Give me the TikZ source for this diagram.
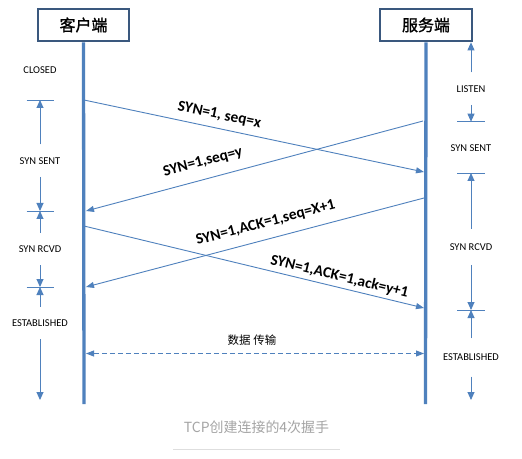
\documentclass[tikz,border=0pt]{standalone}
\usepackage{fontspec}
\setmainfont{Carlito}
\newfontfamily\cjk{Noto Sans CJK SC}
\newfontfamily\cjkbox[FakeBold=1.3]{Noto Sans CJK SC}
\usetikzlibrary{positioning, arrows.meta}
\definecolor{lineblue}{RGB}{79,129,189}
\definecolor{boxblue}{RGB}{58,88,126}
\definecolor{capgray}{RGB}{165,165,165}
\definecolor{rulegray}{RGB}{222,222,222}

\begin{document}
\begin{tikzpicture}
    [
        x=1bp, y=-1bp,
        host_box/.style={draw=boxblue, line width=2.7bp, fill=white, minimum width=91bp, minimum height=32bp, inner sep=0pt, font=\cjkbox\fontsize{16}{16}\selectfont},
        life_line/.style={draw=lineblue, line width=3.3bp},
        msg_line/.style={-{Triangle[length=8bp, width=6bp]}, draw=lineblue, line width=0.9bp},
        msg_label/.style={sloped, inner sep=0pt, font=\bfseries\fontsize{15.4}{15.4}\selectfont},
        state_label/.style={inner sep=0pt, minimum height=32bp, font=\fontsize{10.5}{10.5}\selectfont},
        state_arrow/.style={-{Triangle[length=8bp, width=7bp]}, draw=lineblue, line width=0.9bp},
        tick_mark/.style={draw=lineblue, line width=0.9bp},
    ]
        \useasboundingbox[fill=white] (0,0) rectangle (522,459);
        % hosts and life lines
        \node[host_box] (client) at (83.5,25) {客户端};
        \node[host_box, minimum width=92bp] (server) at (426,25) {服务端};
        \coordinate (client_end) at (84,404);
        \coordinate (server_end) at (425.5,404);
        \draw[life_line] (client.south) -- (client_end);
        \draw[life_line] (server.south) -- (server_end);

        % handshake messages
        \coordinate (c1) at (84,100);   \coordinate (s1) at (424,172);
        \coordinate (s2) at (423,121);  \coordinate (c2) at (86,211);
        \coordinate (s3) at (424,198);  \coordinate (c3) at (86,287);
        \coordinate (c4) at (84,226);   \coordinate (s4) at (424,308);
        \draw[msg_line] (c1) -- (s1) node[msg_label, pos=0.39, above=6.5bp] (m1) {SYN=1, seq=x};
        \draw[msg_line] (s2) -- (c2) node[msg_label, pos=0.64, above=10.5bp] (m2) {SYN=1,seq=y};
        \draw[msg_line] (s3) -- (c3) node[msg_label, pos=0.456, above=9.5bp] (m3) {SYN=1,ACK=1,seq=X+1};
        \draw[msg_line] (c4) -- (s4) node[msg_label, pos=0.744, above=3.5bp] (m4) {SYN=1,ACK=1,ack=y+1};

        % data transfer
        \coordinate (c5) at (86,353.5);  \coordinate (s5) at (424,353.5);
        \draw[msg_line, {Triangle[length=8bp, width=6bp]}-{Triangle[length=8bp, width=6bp]}, dash pattern=on 5bp off 3bp] (c5) -- (s5);
        \node[font=\cjk\fontsize{11.5}{11.5}\selectfont] (data) at (252,340.5) {数据\hspace{3bp}传输};

        % client states
        \node[state_label] (closed_l) at (40,70) {CLOSED};
        \node[state_label] (synsent_l) at (40,160.7) {SYN SENT};
        \node[state_label] (synrcvd_l) at (40,249) {SYN RCVD};
        \node[state_label] (estab_l) at (40,323) {ESTABLISHED};
        \coordinate (tl1) at (40,100);
        \coordinate (tl2) at (40,211);
        \coordinate (tl3) at (40,287);
        \coordinate (tl4) at (40,400);
        \foreach \t in {tl1, tl2, tl3}
            \draw[tick_mark] ([xshift=-13.5bp]\t) -- ([xshift=13.5bp]\t);
        \draw[state_arrow] (synsent_l) -- (tl1);
        \draw[state_arrow] (synsent_l) -- (tl2);
        \draw[state_arrow] (synrcvd_l) -- (tl2);
        \draw[state_arrow] (synrcvd_l) -- (tl3);
        \draw[state_arrow] (estab_l) -- (tl3);
        \draw[state_arrow] (estab_l) -- (tl4);

        % server states
        \node[state_label] (listen_r) at (471,88.7) {LISTEN};
        \node[state_label, minimum height=26bp] (synsent_r) at (471,148.3) {SYN SENT};
        \node[state_label, minimum height=36bp] (synrcvd_r) at (471,246.7) {SYN RCVD};
        \node[state_label, minimum height=38bp] (estab_r) at (471,357.5) {ESTABLISHED};
        \coordinate (tr0) at (listen_r |- server.south);
        \coordinate (tr1) at (471,121.7);
        \coordinate (tr2) at (471,173);
        \coordinate (tr3) at (471,310);
        \coordinate (tr4) at (471,400);
        \foreach \t in {tr1, tr2, tr3}
            \draw[tick_mark] ([xshift=-14bp]\t) -- ([xshift=14bp]\t);
        \draw[state_arrow] (listen_r) -- (tr0);
        \draw[state_arrow] (listen_r) -- (tr1);
        \draw[state_arrow] (synrcvd_r) -- (tr2);
        \draw[state_arrow] (synrcvd_r) -- (tr3);
        \draw[state_arrow] (estab_r) -- (tr3);
        \draw[state_arrow] (estab_r) -- (tr4);

        % caption
        \node[font=\cjk\fontsize{14}{14}\selectfont, text=capgray] (caption) at (256.5,426.7) {TCP创建连接的4次握手};
        \draw[rulegray, line width=1bp] (173,449) -- (340,449);
    \end{tikzpicture}
\end{document}
